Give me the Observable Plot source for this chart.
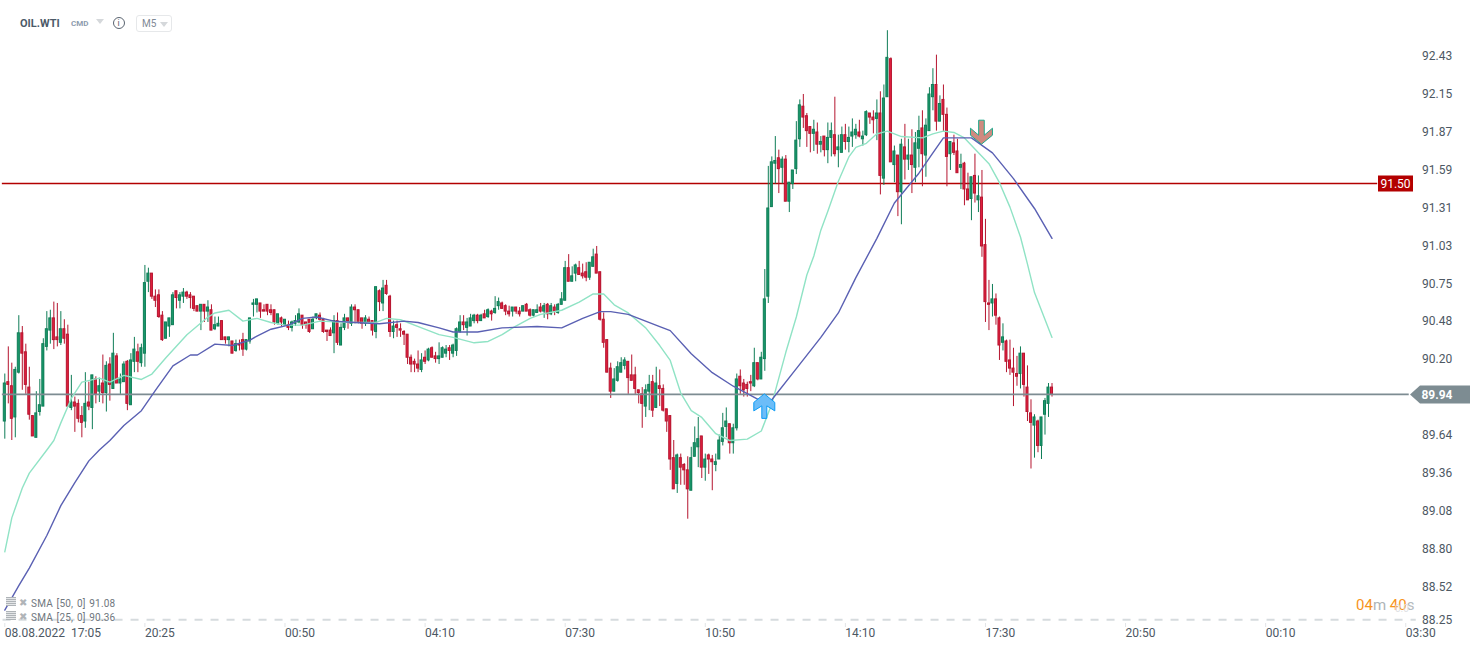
<!DOCTYPE html>
<html><head><meta charset="utf-8">
<script src="https://cdn.jsdelivr.net/npm/d3@7"></script>
<script src="https://cdn.jsdelivr.net/npm/@observablehq/plot@0.6"></script>
<style>
html,body{margin:0;padding:0;background:#fff;font-family:Roboto,sans-serif}
#wrap{position:relative;width:1482px;height:650px;overflow:hidden}
#wrap svg{display:block}
.ov{position:absolute;white-space:pre;line-height:1}
</style></head><body><div id="wrap"></div>
<script>
const high=[
90.09,90.29,90.17,90.14,90.52,90.44,90.31,90.14,89.78,89.96,
90.05,90.35,90.55,90.56,90.62,90.61,90.55,90.49,90.45,90.08,
89.92,89.90,89.85,90.10,90.03,90.08,90.07,90.06,90.23,90.18,
90.21,90.39,90.24,90.09,90.18,90.19,90.24,90.36,90.31,90.31,
90.89,90.87,90.83,90.71,90.71,90.55,90.47,90.50,90.69,90.70,
90.69,90.72,90.70,90.69,90.66,90.59,90.60,90.60,90.63,90.60,
90.51,90.51,90.48,90.36,90.36,90.33,90.34,90.34,90.39,90.34,
90.50,90.64,90.64,90.61,90.60,90.60,90.60,90.56,90.53,90.51,
90.49,90.48,90.48,90.52,90.57,90.52,90.47,90.49,90.51,90.53,
90.54,90.50,90.41,90.43,90.52,90.54,90.46,90.53,90.50,90.60,
90.60,90.56,90.50,90.52,90.51,90.48,90.73,90.71,90.78,90.78,
90.67,90.48,90.48,90.46,90.41,90.38,90.23,90.20,90.26,90.24,
90.26,90.28,90.29,90.25,90.32,90.29,90.30,90.30,90.31,90.43,
90.52,90.52,90.50,90.53,90.53,90.53,90.53,90.56,90.57,90.56,
90.66,90.65,90.62,90.60,90.59,90.58,90.58,90.58,90.59,90.61,
90.57,90.56,90.60,90.61,90.61,90.61,90.61,90.60,90.61,90.69,
90.92,90.97,90.88,90.90,90.92,90.90,90.91,90.91,91.01,91.03,
90.84,90.54,90.34,90.17,90.13,90.18,90.21,90.21,90.18,90.23,
90.14,89.97,89.99,90.01,90.08,90.08,90.14,90.12,90.01,89.83,
89.78,89.60,89.50,89.50,89.43,89.48,89.55,89.70,89.77,89.63,
89.50,89.50,89.49,89.50,89.64,89.80,89.84,89.72,89.72,90.09,
90.12,90.05,90.03,90.08,90.28,90.17,90.25,90.86,91.62,91.69,
91.84,91.74,91.69,91.70,91.50,91.59,91.95,92.11,92.15,92.01,
91.91,91.96,91.94,91.84,91.84,91.94,91.94,92.13,91.85,91.91,
91.93,91.91,91.97,91.93,91.96,91.88,92.03,92.01,92.03,92.11,
92.17,92.22,92.62,92.42,91.77,91.70,91.82,91.93,91.82,91.89,
91.87,91.99,92.03,91.97,92.20,92.34,92.44,92.14,92.22,92.05,
91.80,91.85,91.82,91.71,91.65,91.57,91.54,91.71,91.55,91.59,
91.23,90.78,90.75,90.68,90.51,90.46,90.34,90.34,90.28,90.22,
90.29,90.24,90.15,89.90,89.79,89.75,89.77,89.91,90.02,90.02];
const low=[
89.61,89.87,89.60,89.62,90.09,89.97,89.94,89.75,89.63,89.62,
89.78,89.85,90.26,90.31,90.27,90.29,90.30,90.31,89.85,89.82,
89.66,89.73,89.62,89.69,89.82,89.68,89.87,89.88,89.87,89.81,
89.89,89.98,90.02,89.94,90.03,89.82,89.86,90.10,90.10,90.14,
90.14,90.69,90.64,90.58,90.50,90.33,90.35,90.36,90.45,90.57,
90.57,90.61,90.64,90.57,90.55,90.55,90.41,90.47,90.47,90.41,
90.41,90.44,90.34,90.31,90.29,90.24,90.25,90.26,90.22,90.26,
90.31,90.51,90.54,90.50,90.55,90.52,90.52,90.45,90.45,90.44,
90.44,90.41,90.40,90.44,90.46,90.42,90.42,90.39,90.42,90.49,
90.48,90.39,90.33,90.37,90.24,90.30,90.30,90.41,90.42,90.44,
90.46,90.46,90.42,90.44,90.46,90.37,90.35,90.55,90.55,90.67,
90.36,90.35,90.36,90.36,90.30,90.16,90.10,90.10,90.10,90.10,
90.16,90.18,90.21,90.17,90.16,90.21,90.21,90.19,90.21,90.22,
90.39,90.41,90.37,90.44,90.46,90.46,90.48,90.50,90.50,90.48,
90.53,90.56,90.57,90.52,90.51,90.51,90.53,90.51,90.55,90.55,
90.51,90.51,90.54,90.54,90.50,90.49,90.52,90.52,90.53,90.60,
90.63,90.77,90.77,90.77,90.82,90.79,90.77,90.78,90.88,90.83,
90.48,90.28,90.10,89.91,89.96,90.03,90.10,90.12,89.94,90.04,
89.94,89.87,89.69,89.77,89.82,89.77,89.84,89.85,89.81,89.66,
89.38,89.24,89.21,89.27,89.27,89.02,89.23,89.48,89.40,89.32,
89.30,89.35,89.23,89.37,89.46,89.56,89.62,89.50,89.50,89.67,
89.94,89.92,89.92,89.96,89.99,90.04,90.05,90.11,90.61,91.32,
91.49,91.42,91.49,91.36,91.28,91.45,91.56,91.76,91.90,91.76,
91.72,91.73,91.71,91.72,91.69,91.64,91.69,91.69,91.61,91.72,
91.74,91.72,91.76,91.82,91.83,91.77,91.84,91.93,91.86,91.81,
91.41,91.48,92.13,91.65,91.50,91.25,91.19,91.52,91.59,91.42,
91.50,91.61,91.47,91.54,91.88,92.03,91.88,91.95,91.87,91.47,
91.59,91.70,91.57,91.45,91.33,91.37,91.22,91.35,91.28,90.95,
90.47,90.41,90.51,90.45,90.19,90.26,90.10,90.08,89.85,90.00,
89.98,89.92,89.74,89.39,89.47,89.51,89.46,89.64,89.77,89.92];
const bodyTop=[
90.02,90.03,90.00,90.12,90.39,90.39,90.25,89.99,89.78,89.80,
89.86,90.31,90.42,90.50,90.50,90.36,90.42,90.42,90.38,89.88,
89.88,89.87,89.78,89.87,89.88,90.08,90.05,90.00,90.02,90.15,
90.16,90.24,90.22,90.05,90.16,90.18,90.19,90.27,90.25,90.28,
90.76,90.83,90.83,90.66,90.67,90.52,90.47,90.50,90.67,90.70,
90.67,90.69,90.69,90.67,90.66,90.59,90.60,90.60,90.58,90.56,
90.45,90.46,90.48,90.36,90.36,90.33,90.31,90.31,90.34,90.34,
90.50,90.61,90.64,90.61,90.56,90.60,90.56,90.56,90.53,90.50,
90.49,90.45,90.47,90.48,90.53,90.52,90.47,90.49,90.49,90.53,
90.52,90.49,90.41,90.41,90.48,90.48,90.43,90.50,90.50,90.58,
90.58,90.56,90.50,90.50,90.49,90.48,90.73,90.70,90.72,90.74,
90.66,90.44,90.45,90.42,90.40,90.38,90.21,90.18,90.16,90.19,
90.21,90.27,90.28,90.22,90.22,90.28,90.27,90.28,90.30,90.42,
90.47,90.47,90.47,90.50,90.52,90.52,90.52,90.53,90.56,90.55,
90.57,90.62,90.61,90.59,90.55,90.58,90.58,90.55,90.59,90.60,
90.56,90.56,90.56,90.58,90.59,90.60,90.59,90.58,90.60,90.64,
90.87,90.87,90.81,90.89,90.87,90.83,90.84,90.91,90.95,90.97,
90.84,90.49,90.34,90.13,90.05,90.14,90.17,90.19,90.18,90.08,
90.08,89.97,89.94,89.97,90.01,90.03,90.02,90.00,89.98,89.83,
89.78,89.47,89.49,89.47,89.42,89.38,89.47,89.58,89.61,89.63,
89.46,89.49,89.46,89.44,89.60,89.69,89.74,89.72,89.69,90.05,
90.07,90.02,90.01,90.03,90.17,90.17,90.21,90.64,91.31,91.65,
91.66,91.68,91.67,91.67,91.50,91.59,91.81,92.07,92.06,91.99,
91.91,91.89,91.87,91.80,91.84,91.83,91.88,91.85,91.76,91.85,
91.85,91.83,91.87,91.89,91.87,91.84,92.02,92.01,91.98,92.01,
92.01,92.12,92.42,92.41,91.73,91.70,91.78,91.76,91.70,91.70,
91.79,91.88,91.90,91.92,92.15,92.22,92.22,92.08,92.11,92.00,
91.80,91.79,91.73,91.63,91.64,91.45,91.54,91.55,91.40,91.39,
91.04,90.61,90.64,90.64,90.50,90.36,90.33,90.19,90.13,90.09,
90.24,90.24,89.99,89.80,89.77,89.74,89.77,89.89,89.99,89.99];
const bodyBottom=[
89.74,90.01,89.76,89.77,90.10,90.24,90.01,89.79,89.63,89.62,
89.81,89.85,90.29,90.41,90.34,90.34,90.32,90.35,89.85,89.84,
89.85,89.76,89.73,89.74,89.85,89.84,89.94,89.96,89.95,89.95,
90.01,89.98,90.02,90.02,90.03,89.87,89.86,90.18,90.18,90.17,
90.24,90.77,90.66,90.63,90.51,90.34,90.35,90.44,90.45,90.65,
90.63,90.66,90.66,90.65,90.57,90.55,90.55,90.55,90.55,90.41,
90.42,90.44,90.34,90.34,90.34,90.24,90.26,90.30,90.27,90.27,
90.33,90.60,90.60,90.55,90.55,90.55,90.54,90.47,90.46,90.47,
90.45,90.43,90.43,90.46,90.47,90.45,90.45,90.40,90.42,90.50,
90.49,90.40,90.40,90.37,90.39,90.32,90.30,90.43,90.48,90.46,
90.56,90.47,90.46,90.46,90.47,90.41,90.40,90.62,90.61,90.68,
90.40,90.40,90.43,90.41,90.38,90.21,90.16,90.16,90.13,90.12,
90.18,90.19,90.21,90.20,90.20,90.21,90.24,90.26,90.24,90.26,
90.40,90.45,90.43,90.44,90.48,90.48,90.48,90.50,90.51,90.53,
90.54,90.59,90.57,90.55,90.53,90.55,90.55,90.53,90.55,90.55,
90.52,90.52,90.54,90.55,90.55,90.53,90.53,90.55,90.54,90.60,
90.63,90.77,90.77,90.83,90.82,90.81,90.80,90.80,90.88,90.83,
90.49,90.32,90.10,89.96,89.96,90.04,90.10,90.15,90.06,90.04,
89.98,89.95,89.87,89.85,89.96,89.82,89.84,89.98,89.82,89.74,
89.46,89.24,89.28,89.40,89.38,89.24,89.23,89.48,89.55,89.40,
89.40,89.46,89.44,89.42,89.46,89.59,89.70,89.58,89.58,89.69,
90.00,89.97,89.98,90.02,90.00,90.05,90.05,90.20,90.66,91.32,
91.64,91.60,91.61,91.36,91.36,91.49,91.60,91.82,91.98,91.88,
91.86,91.86,91.78,91.78,91.74,91.74,91.83,91.71,91.74,91.72,
91.80,91.80,91.84,91.85,91.84,91.82,91.85,91.98,91.96,91.97,
91.55,91.53,92.13,91.65,91.63,91.43,91.43,91.67,91.67,91.63,
91.61,91.75,91.71,91.70,91.88,92.13,91.95,91.95,92.00,91.69,
91.71,91.72,91.57,91.61,91.45,91.37,91.38,91.42,91.37,91.03,
90.62,90.60,90.61,90.52,90.30,90.32,90.18,90.13,90.10,90.07,
90.09,90.01,89.81,89.73,89.71,89.56,89.56,89.79,89.87,89.94];
const direction=(
"g r r g g r r r r g "+"g g g g r r g r r g "+"r r r g r g r g r g "+"r g r g g r g g r g "+
"g g r r r r g g g r "+"g g r r r r g r g r "+"g g r r g r g r r g "+"g g g r r r r r g r "+
"g r g g g r r r g g "+"r r r r g r g g r g "+"r r r g r r g r g r "+"r g r r r r r r r g "+
"r g r r g g g r g g "+"g r g g g r g r g r "+"g g r r r g r r g r "+"r g g r g r g r g g "+
"g r g g r r r g g r "+"r r r r g g g g r r "+"r r r g g r g r r r "+"r r g r r r g g g r "+
"g r r g g g g r g g "+"r r r r g r g g g g "+"g r g r g g g g r r "+"r g r g r g g r g g "+
"r g g g r g g r r g "+"r g g r g r g r g r "+"g g r g g g r g r r "+"g r r g r r g r g r "+
"r r g r r g r r r r "+"g r r r g r g g g r").split(" ");

const sma25Bar=[0,2,5,7,12,14,16,19,22,27,30,34,39,42,46,52,58,60,64,68,72,76,80,85,90,99,106,109,113,119,124,128,134,138,142,145,150,153,159,164,168,171,174,178,183,187,190,193,196,199,203,207,212,216,219,223,226,229,231,233,235,238,241,243,246,249,252,256,262,265,268,271,274,278,281,284,287,290,292,294,299];
const sma25=[88.78,89.03,89.25,89.36,89.53,89.60,89.73,89.91,90.03,90.06,90.03,90.08,90.05,90.09,90.21,90.38,90.51,90.54,90.56,90.48,90.50,90.47,90.45,90.45,90.48,90.47,90.47,90.50,90.49,90.43,90.38,90.36,90.32,90.33,90.38,90.43,90.50,90.53,90.56,90.62,90.68,90.68,90.60,90.54,90.43,90.30,90.19,89.95,89.82,89.77,89.65,89.60,89.61,89.67,89.87,90.25,90.51,90.82,90.96,91.15,91.29,91.51,91.69,91.76,91.79,91.86,91.88,91.84,91.83,91.86,91.88,91.87,91.83,91.72,91.64,91.50,91.32,91.10,90.90,90.69,90.36];
const sma50Bar=[0,4,7,12,16,20,24,27,30,34,39,43,48,53,55,60,65,70,72,76,81,85,89,94,100,107,114,118,124,128,135,142,152,159,165,170,173,178,187,190,196,202,208,216,219,226,233,238,243,249,254,261,265,268,276,282,288,294,299];
const sma50=[88.35,88.53,88.66,88.90,89.12,89.29,89.45,89.53,89.60,89.71,89.82,89.97,90.15,90.23,90.23,90.31,90.30,90.34,90.37,90.42,90.45,90.50,90.51,90.48,90.47,90.46,90.48,90.47,90.43,90.40,90.40,90.43,90.44,90.43,90.50,90.55,90.55,90.53,90.44,90.41,90.24,90.10,90.00,89.89,89.90,90.13,90.36,90.54,90.80,91.09,91.35,91.57,91.72,91.83,91.83,91.72,91.53,91.31,91.09];

const yTicks=[92.43,92.15,91.87,91.59,91.31,91.03,90.75,90.48,90.20,89.64,89.36,89.08,88.80,88.52];
const yBottomTick=88.25;
const xTickBars=[0,40,80,120,160,200,240,280,320,360,400];
const xTickLabels=["08.08.2022\u00a0\u00a017:05","20:25","00:50","04:10","07:30","10:50","14:10","17:30","20:50","00:10","03:30"];
const targetLevel=91.50, targetLine=91.494, lastPrice=89.94, lastLine=89.94, timerLine=88.28;
const buySignal={bar:217,price:89.94}, sellSignal={bar:279,price:91.78};
const colors={up:"#0f7d57",upFill:"#1b9a6c",down:"#b5152f",downFill:"#e2203f",sma25:"#90e3c5",sma50:"#5a60b3",target:"#b30000",last:"#7d8c92",axis:"#4d5863"};

const candles=high.map((h,i)=>({i,h,l:low[i],t:bodyTop[i],b:bodyBottom[i],up:direction[i]==="g"}));
const zip=(xs,ys)=>xs.map((x,k)=>({x,y:ys[k]}));
const halfBody=0.29;

function polygon(points,fill,stroke,sw){
  const p=document.createElementNS("http://www.w3.org/2000/svg","polygon");
  p.setAttribute("points",points.map(d=>d.join(",")).join(" "));
  p.setAttribute("fill",fill);p.setAttribute("stroke",stroke);p.setAttribute("stroke-width",sw);
  return p;
}
const buyShape=[[0,0],[10.5,8.5],[10.5,17],[2.5,12],[2.5,24.5],[-2.5,24.5],[-2.5,12],[-10.5,17],[-10.5,8.5]];
const sellShape=[[-2.8,-24],[2.8,-24],[2.8,-9],[11,-16],[11,-9],[0,0],[-11,-9],[-11,-16],[-2.8,-9]];
const arrowMark=(sig,shape,fill,stroke)=>(index,{x,y})=>{
  const X=x(sig.bar),Y=y(sig.price);
  return polygon(shape.map(([a,b])=>[X+a,Y+b]),fill,stroke,1);
};
const tagMark=(price,text,fill,x0,x1,tip,bold)=>(index,{y})=>{
  const Y=Math.round(y(price))+0.5;
  const g=document.createElementNS("http://www.w3.org/2000/svg","g");
  const pts=tip?[[x0,Y],[x0+10,Y-9],[x1,Y-9],[x1,Y+9],[x0+10,Y+9]]:[[x0,Y-8],[x1,Y-8],[x1,Y+8],[x0,Y+8]];
  g.appendChild(polygon(pts,fill,"none",0));
  const t=document.createElementNS("http://www.w3.org/2000/svg","text");
  t.setAttribute("x",tip?x0+27:(x0+x1)/2);t.setAttribute("y",Y+4.2);t.setAttribute("text-anchor","middle");
  t.setAttribute("fill","#fff");t.setAttribute("font-size","12");t.setAttribute("font-family","Roboto");
  if(bold)t.setAttribute("font-weight","700");
  t.textContent=text;g.appendChild(t);
  return g;
};

const chart=Plot.plot({
  width:1482,height:650,marginLeft:0,marginTop:0,marginRight:60.5,marginBottom:27,
  style:{fontFamily:"Roboto",fontSize:"12px",background:"#fff",color:colors.axis},
  x:{domain:[0,299],range:[4.3,1051.5],axis:null},
  y:{domain:[92.43,88.25],range:[56,623.2],axis:null},
  marks:[
    Plot.ruleY([timerLine],{stroke:"#d6dbde",strokeWidth:2,strokeDasharray:"8,8",x1:-0.5,x2:403}),
    Plot.ruleY([targetLine],{stroke:colors.target,strokeWidth:1.7,x1:-0.7,x2:392}),
    Plot.ruleX(candles,{x:"i",y1:"l",y2:"h",stroke:d=>d.up?colors.up:colors.down,strokeWidth:1}),
    Plot.rect(candles,{x1:d=>d.i-halfBody,x2:d=>d.i+halfBody,y1:"b",y2:"t",fill:d=>d.up?colors.upFill:colors.downFill,stroke:d=>d.up?colors.up:colors.down,strokeWidth:1}),
    Plot.ruleY([lastLine],{stroke:colors.last,strokeWidth:1.6,x1:-0.7,x2:401}),
    Plot.line(zip(sma25Bar,sma25),{x:"x",y:"y",stroke:colors.sma25,strokeWidth:1.4}),
    Plot.line(zip(sma50Bar,sma50),{x:"x",y:"y",stroke:colors.sma50,strokeWidth:1.4}),
    arrowMark(buySignal,buyShape,"#6cbdf8","#0c9cf5"),
    arrowMark(sellSignal,sellShape,"#cf8a80","#1ea98b"),
    tagMark(targetLine,targetLevel.toFixed(2),colors.target,1378,1413,false,false),
    tagMark(lastLine,lastPrice.toFixed(2),colors.last,1410,1470,true,true),
    Plot.axisY({anchor:"right",ticks:yTicks,tickSize:0,tickPadding:0,tickFormat:d=>d.toFixed(2),fill:colors.axis}),
    Plot.axisY({anchor:"right",ticks:[yBottomTick],tickSize:0,tickPadding:0,tickFormat:d=>d.toFixed(2),fill:colors.axis,dy:-4}),
    Plot.axisX({anchor:"bottom",ticks:xTickBars,tickSize:4,tickPadding:1,stroke:"#e2e4e6",fill:colors.axis,textAnchor:"start",tickFormat:(d)=>xTickLabels[xTickBars.indexOf(d)]})
  ]
});
const wrap=document.getElementById("wrap");
wrap.appendChild(chart);
function ov(html,left,top,css){const d=document.createElement("div");d.className="ov";d.style.cssText=`left:${left}px;top:${top}px;${css}`;d.innerHTML=html;wrap.appendChild(d);return d;}
const tri=(l,t,c)=>ov("",l,t,`width:0;height:0;border-left:4.5px solid transparent;border-right:4.5px solid transparent;border-top:5px solid ${c}`);
ov("OIL.WTI",20,18,"font-size:11px;font-weight:700;color:#4c5a68");
ov("CMD",71,20,"font-size:8px;font-weight:700;color:#8d9cae");
tri(96,19,"#d5d8db");
ov("i",112.5,17,"box-sizing:border-box;width:12px;height:12px;border:1px solid #5a6470;border-radius:50%;font-size:9px;line-height:10px;text-align:center;color:#5a6470");
ov("M5",136,15,"box-sizing:border-box;width:36px;height:17px;border:1px solid #e6e8ea;border-radius:3px;font-size:10px;line-height:15px;padding-left:5px;color:#7f8a96");
tri(160,22,"#d5d8db");
const legend=[["SMA [50, 0] 91.08",599],["SMA [25, 0] 90.36",613]];
legend.forEach(([txt,t])=>{
  ov("",6,t-2,"width:10px;height:9px;background:repeating-linear-gradient(#aeb3b7 0 1px,#e4e6e8 1px 2px)");
  ov("✖",19,t-1,"font-size:10px;color:#b0b4b8");
  ov(txt,31,t,"font-size:10px;color:#6f777e;word-spacing:1px;letter-spacing:.2px");
});
ov('<span style="color:#f7941d">04</span><span style="color:#aeb4b8">m </span><span style="color:#f7941d">40</span><span style="color:#b5babd">s</span>',1356,598,"font-size:15px");
ov("0.0",1395,604,"font-size:10px;color:#dfe2e4");
</script></body></html>
